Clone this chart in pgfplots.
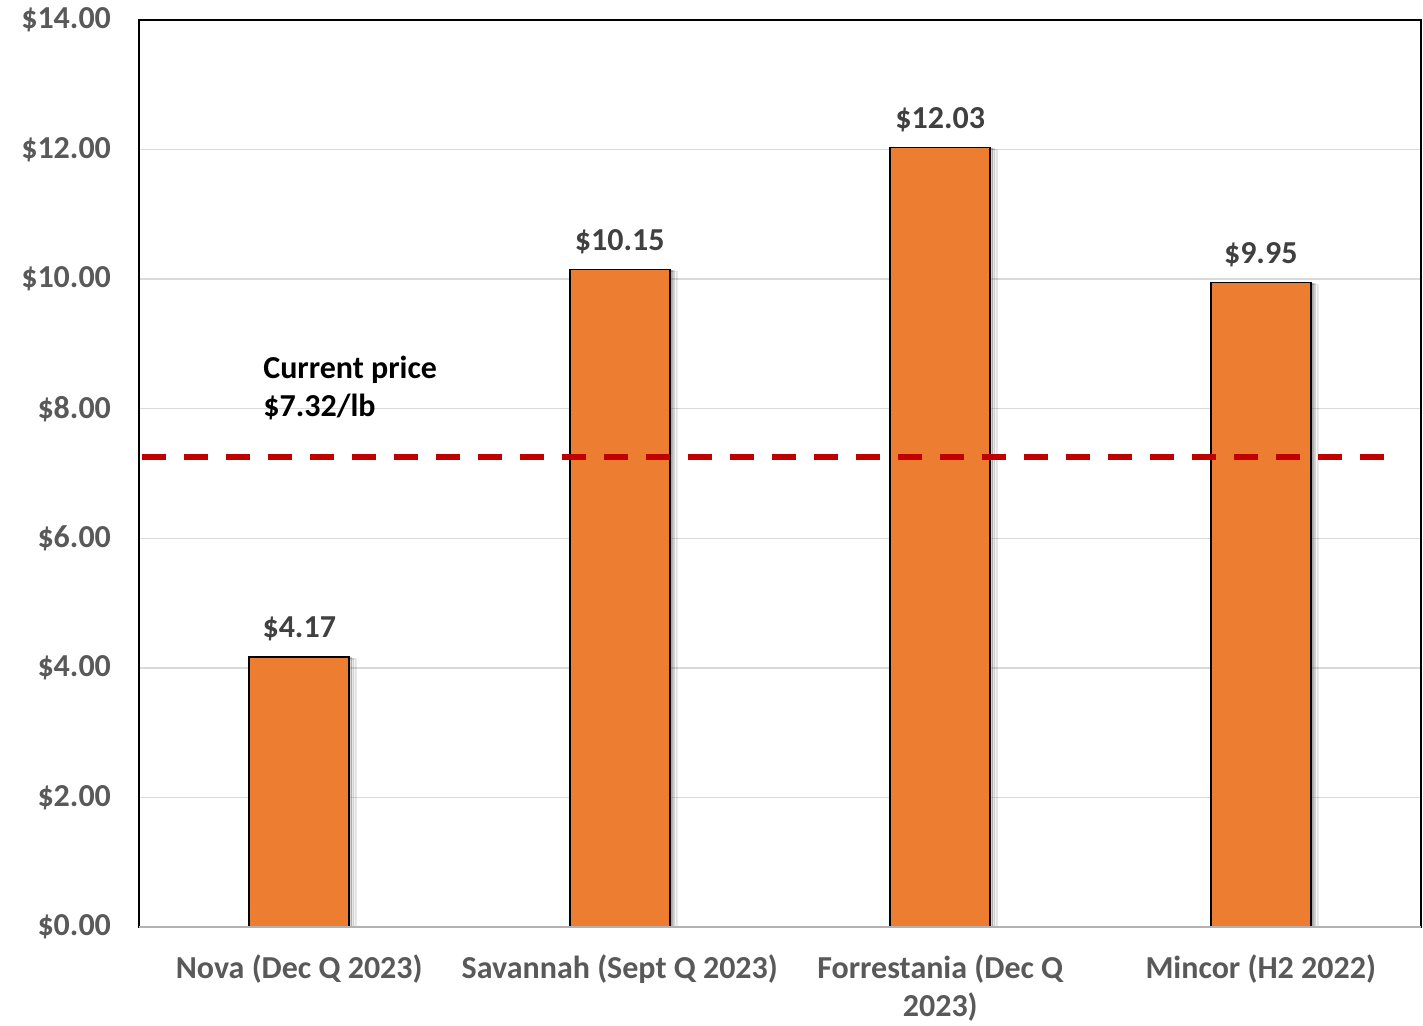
\documentclass[border=0pt]{standalone}
\usepackage{pgfplots}
\pgfplotsset{compat=1.18}
\usepackage{fontspec}
\setmainfont{Carlito}
\usetikzlibrary{shadows}
\definecolor{barorange}{HTML}{ED7D31}
\definecolor{ticktext}{HTML}{595959}
\definecolor{labeltext}{HTML}{404040}
\definecolor{pricered}{HTML}{C00000}
\definecolor{gridgrey}{HTML}{D9D9D9}

\begin{document}
\begin{tikzpicture}
  \begin{axis}[
      scale only axis,
      width=641pt, height=453.5pt,
      xmin=-0.5, xmax=3.5,
      ymin=0, ymax=14,
      xtick={0,1,2,3},
      xticklabels={Nova (Dec Q 2023),Savannah (Sept Q 2023),{Forrestania (Dec Q\\2023)},Mincor (H2 2022)},
      ytick={0,2,...,14},
      major tick length=0pt,
      ymajorgrids,
      grid style={gridgrey, line width=0.7pt},
      axis line style={black, line width=1pt},
      /pgf/number format/assume math mode=true,
      yticklabel={\$\pgfmathprintnumber[fixed,fixed zerofill,precision=2]{\tick}},
      ticklabel style={font=\fontsize{16}{18.6}\selectfont\bfseries, text=ticktext},
      yticklabel style={xshift=-10.5pt},
      xticklabel style={align=center, yshift=-10.5pt},
    ]
    % bars
    \addplot[ybar, bar width=50pt, fill=barorange, draw=black, line width=0.8pt,
      drop shadow={shadow xshift=3.5pt, shadow yshift=-1pt, opacity=0.08},
      drop shadow={shadow xshift=2.2pt, shadow yshift=-0.8pt, opacity=0.12},
      drop shadow={shadow xshift=1.2pt, shadow yshift=-0.5pt, opacity=0.2},
      nodes near coords={\$\pgfmathprintnumber[fixed,fixed zerofill,precision=2]{\pgfplotspointmeta}},
      nodes near coords style={font=\fontsize{16}{19}\selectfont\bfseries, text=labeltext, yshift=4pt},
      point meta=explicit symbolic]
      table[meta=lab] {
        x y lab
        0 4.17 4.17
        1 10.15 10.15
        2 12.03 12.03
        3 9.95 9.95
      };
    % current price line
    \addplot[pricered, line width=3pt, dash pattern=on 12pt off 9pt]
      coordinates {(-0.49,7.25) (3.39,7.25)};
    \node[anchor=west, align=left, font=\fontsize{16}{19}\selectfont\bfseries, text=black]
      at (axis cs:-0.134,8.32) {Current price\\\$7.32/lb};
    \draw[gray!60, line width=1pt] (rel axis cs:0,0) -- (rel axis cs:1,0);
  \end{axis}
  \pgfresetboundingbox
  \path[use as bounding box] (-69.5pt,-49pt) rectangle (642pt,463.5pt);
\end{tikzpicture}
\end{document}
